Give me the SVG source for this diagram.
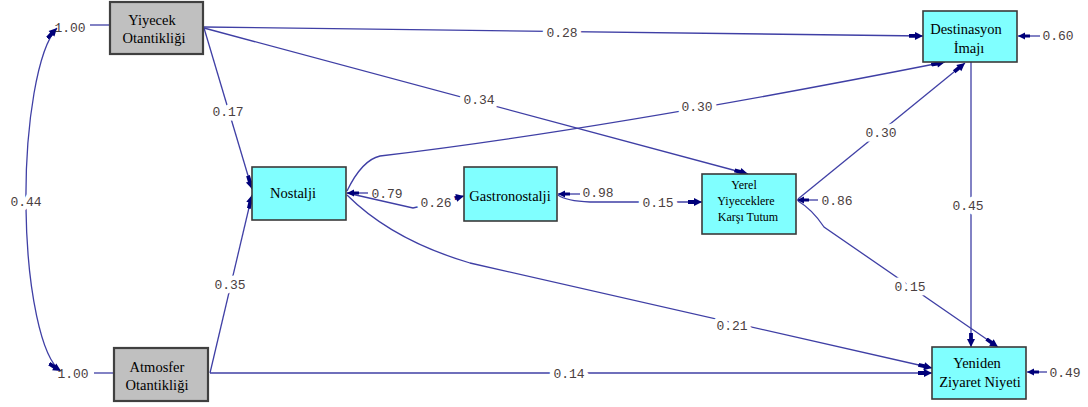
<svg xmlns="http://www.w3.org/2000/svg" width="1088" height="407" viewBox="0 0 1088 407">
  <style>
    .box-x { fill: #c0c0c0; stroke: #404040; stroke-width: 2.2; }
    .box-n { fill: #80ffff; stroke: #3a3a3a; stroke-width: 1.6; }
    .nd { font-family: "Liberation Serif", "Times New Roman", serif; font-size: 14.5px; fill: #000; text-anchor: middle; }
    .nd-s { font-size: 12px; }
    .ln { fill: none; stroke: #3f3fa5; stroke-width: 1.3; }
    .path { marker-end: url(#head); }
    .err { fill: none; stroke: #3f3fa5; stroke-width: 1.3; marker-end: url(#head-s); }
    .cf { font-family: "Liberation Mono", "Courier New", monospace; font-size: 13px; fill: #4a4040; text-anchor: middle; paint-order: stroke; stroke: #fff; stroke-width: 9px; stroke-linejoin: round; }
    .ev { font-family: "Liberation Mono", "Courier New", monospace; font-size: 13px; fill: #4a4040; text-anchor: middle; }
  </style>
  <defs>
    <marker id="head" markerUnits="userSpaceOnUse" markerWidth="14" markerHeight="9" refX="14" refY="4.5" orient="auto-start-reverse">
      <path d="M0,2.6 L6,2.6 L6,0.5 L14,4.5 L6,8.5 L6,6.4 L0,6.4 z" fill="#00007a"/>
    </marker>
    <marker id="head-s" markerUnits="userSpaceOnUse" markerWidth="12" markerHeight="8" refX="12" refY="4" orient="auto">
      <path d="M0,2.4 L5,2.4 L5,0.6 L12,4 L5,7.4 L5,5.6 L0,5.6 z" fill="#00007a"/>
    </marker>
  </defs>

  <rect width="1088" height="407" fill="#fff"/>

  <!-- paths, covariance and error terms -->
  <g id="connectors">
    <!-- exogenous variances -->
    <path class="ln" d="M90,25 L110,25"/>
    <path class="ln" d="M94,373 L114,373"/>
    <!-- covariance between the two exogenous variables -->
    <path class="ln" d="M57,28 A41,175 0 0,0 61,371" marker-start="url(#head)" marker-end="url(#head)"/>
    <!-- structural paths -->
    <path class="ln path" d="M204,27 L923,36"/>
    <path class="ln path" d="M204,28 L748,174"/>
    <path class="ln path" d="M204,28 L252,189"/>
    <path class="ln path" d="M210,373 L252,195"/>
    <path class="ln path" d="M210,373 L932,373"/>
    <path class="ln path" d="M347,191 Q362,160 380,156 Q600,130 945,62"/>
    <path class="ln path" d="M347,195 Q392,240 470,263 L932,368"/>
    <path class="ln path" d="M347,193 L413,208 L464,196"/>
    <path class="ln path" d="M558,195 Q566,201 590,202 L702,202"/>
    <path class="ln path" d="M798,199 L965,63"/>
    <path class="ln path" d="M798,201 C810,208 818,218 824,227 L998,347"/>
    <path class="ln path" d="M971,62 L971,347"/>
    <!-- residual terms -->
    <path class="err" d="M368,193 L347,193"/>
    <path class="err" d="M580,194 L558,194"/>
    <path class="err" d="M818,200 L797,200"/>
    <path class="err" d="M1040,36 L1018,36"/>
    <path class="err" d="M1047,372 L1027,372"/>
  </g>

  <!-- coefficient labels -->
  <g id="labels">
    <text class="ev" x="70" y="32">1.00</text>
    <text class="ev" x="73" y="378">1.00</text>
    <text class="cf" x="26" y="206">0.44</text>
    <text class="cf" x="562" y="37">0.28</text>
    <text class="cf" x="479" y="104">0.34</text>
    <text class="cf" x="228" y="116">0.17</text>
    <text class="cf" x="230" y="289">0.35</text>
    <text class="cf" x="697" y="111">0.30</text>
    <text class="ev" x="387" y="198">0.79</text>
    <text class="cf" x="436" y="207">0.26</text>
    <text class="ev" x="598" y="197">0.98</text>
    <text class="cf" x="658" y="207">0.15</text>
    <text class="ev" x="837" y="205">0.86</text>
    <text class="cf" x="881" y="137">0.30</text>
    <text class="cf" x="968" y="210">0.45</text>
    <text class="cf" x="910" y="291">0.15</text>
    <text class="cf" x="732" y="330">0.21</text>
    <text class="cf" x="569" y="378">0.14</text>
    <text class="ev" x="1058" y="40">0.60</text>
    <text class="ev" x="1065" y="377">0.49</text>
  </g>

  <g id="node-yiyecek">
    <rect class="box-x" x="110" y="2" width="93" height="52"/>
    <text class="nd" x="152" y="25">Yiyecek</text>
    <text class="nd" x="154" y="43">Otantikliği</text>
  </g>

  <g id="node-atmosfer">
    <rect class="box-x" x="114" y="348" width="94" height="53"/>
    <text class="nd" x="157" y="372">Atmosfer</text>
    <text class="nd" x="157" y="390">Otantikliği</text>
  </g>

  <g id="node-nostalji">
    <rect class="box-n" x="252" y="167" width="94" height="53"/>
    <text class="nd" x="293" y="198">Nostalji</text>
  </g>

  <g id="node-gastronostalji">
    <rect class="box-n" x="464" y="167" width="93" height="54"/>
    <text class="nd" x="510" y="201">Gastronostalji</text>
  </g>

  <g id="node-yerel">
    <rect class="box-n" x="702" y="174" width="94" height="60"/>
    <text class="nd nd-s" x="744" y="189">Yerel</text>
    <text class="nd nd-s" x="746" y="205">Yiyeceklere</text>
    <text class="nd nd-s" x="748" y="221">Karşı Tutum</text>
  </g>

  <g id="node-destinasyon">
    <rect class="box-n" x="923" y="11" width="94" height="51"/>
    <text class="nd" x="966" y="34">Destinasyon</text>
    <text class="nd" x="969" y="53">İmajı</text>
  </g>

  <g id="node-yeniden">
    <rect class="box-n" x="932" y="347" width="94" height="52"/>
    <text class="nd" x="977" y="368">Yeniden</text>
    <text class="nd" x="980" y="387">Ziyaret Niyeti</text>
  </g>
</svg>
